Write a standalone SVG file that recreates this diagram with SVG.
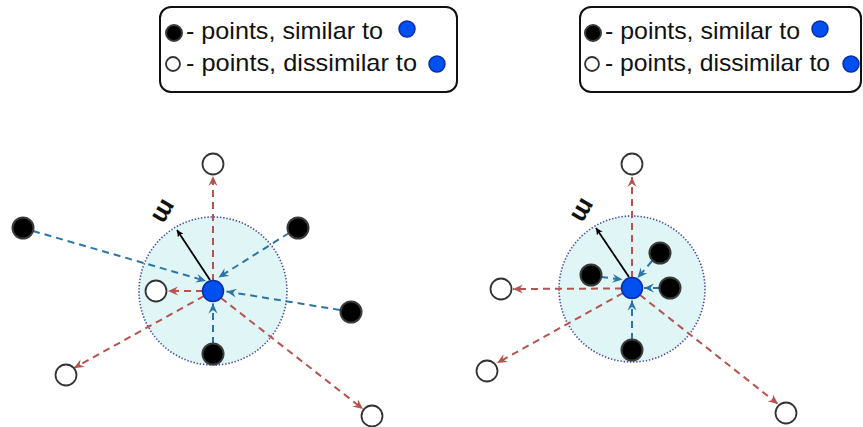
<svg xmlns="http://www.w3.org/2000/svg" width="863" height="427" viewBox="0 0 863 427">
<style>
  .legend { fill: #fff; stroke: #111; stroke-width: 2; }
  .ltext { font-family: "Liberation Sans", Arial, sans-serif; font-size: 24px; fill: #111; }
  .mlabel { font-family: "Liberation Sans", Arial, sans-serif; font-size: 26px; font-weight: bold; fill: #111; }
  .zone { fill: #dff5f6; stroke: #4b4ba3; stroke-width: 1.6; stroke-dasharray: 1.4 1.8; }
  .anchor { fill: #0050ef; stroke: #0a2ea8; stroke-width: 1.5; }
  .sim { fill: #000; stroke: #3a3a3a; stroke-width: 2; }
  .dis { fill: #fff; stroke: #333; stroke-width: 1.8; }
  .pull { stroke: #2a75a8; stroke-width: 2; stroke-dasharray: 7 5; fill: none; marker-end: url(#ab); }
  .push { stroke: #b5544f; stroke-width: 2; stroke-dasharray: 7 5; fill: none; marker-end: url(#ar); }
  .m { stroke: #000; stroke-width: 1.8; fill: none; marker-end: url(#ak); }
</style>
<defs>
  <marker id="ab" viewBox="0 0 10 10" refX="10" refY="5" markerWidth="10" markerHeight="10" markerUnits="userSpaceOnUse" orient="auto">
    <path d="M0,0.5 L10,5 L0,9.5 L3.5,5 z" fill="#2a75a8"/>
  </marker>
  <marker id="ar" viewBox="0 0 10 10" refX="10" refY="5" markerWidth="10" markerHeight="10" markerUnits="userSpaceOnUse" orient="auto">
    <path d="M0,0.5 L10,5 L0,9.5 L3.5,5 z" fill="#b5544f"/>
  </marker>
  <marker id="ak" viewBox="0 0 10 10" refX="10" refY="5" markerWidth="7" markerHeight="7" markerUnits="userSpaceOnUse" orient="auto">
    <path d="M0,0 L10,5 L0,10 L3,5 z" fill="#000"/>
  </marker>
</defs>
<rect width="863" height="427" fill="#fff"/>

<g id="legend-left">
  <rect class="legend" x="160" y="7" width="297" height="85" rx="11"/>
  <circle class="sim" cx="174" cy="33" r="8"/>
  <text class="ltext" x="186" y="39" textLength="197" lengthAdjust="spacingAndGlyphs">- points, similar to</text>
  <circle class="anchor" cx="407" cy="29" r="8"/>
  <circle class="dis" cx="173" cy="64" r="7"/>
  <text class="ltext" x="186" y="71" textLength="231" lengthAdjust="spacingAndGlyphs">- points, dissimilar to</text>
  <circle class="anchor" cx="437" cy="64" r="8"/>
</g>

<g id="legend-right">
  <rect class="legend" x="580" y="7" width="281" height="85" rx="11"/>
  <circle class="sim" cx="593" cy="33" r="8"/>
  <text class="ltext" x="605" y="39" textLength="195" lengthAdjust="spacingAndGlyphs">- points, similar to</text>
  <circle class="anchor" cx="820" cy="29" r="8"/>
  <circle class="dis" cx="592" cy="64" r="7"/>
  <text class="ltext" x="605" y="71" textLength="225" lengthAdjust="spacingAndGlyphs">- points, dissimilar to</text>
  <circle class="anchor" cx="851" cy="64" r="8"/>
</g>

<g id="zone-left"><circle class="zone" cx="213" cy="291" r="74"/></g>
<g id="zone-right"><circle class="zone" cx="632" cy="289" r="73"/></g>

<g id="connectors">
  <!-- left panel -->
  <line class="pull" x1="33" y1="231" x2="206" y2="281"/>
  <line class="pull" x1="289" y1="233" x2="218.5" y2="277.5"/>
  <line class="pull" x1="340" y1="310" x2="226.5" y2="291.5"/>
  <line class="pull" x1="213" y1="344" x2="213" y2="303.5"/>
  <line class="push" x1="213" y1="281" x2="213" y2="176"/>
  <line class="push" x1="203" y1="291" x2="168" y2="291"/>
  <line class="push" x1="204" y1="296" x2="74" y2="368"/>
  <line class="push" x1="221" y1="298" x2="363" y2="409"/>
  <line class="m" x1="210" y1="280" x2="177" y2="230"/>
  <!-- right panel -->
  <line class="pull" x1="601" y1="277" x2="622.5" y2="279.5"/>
  <line class="pull" x1="652" y1="261" x2="637.5" y2="278"/>
  <line class="pull" x1="660" y1="288" x2="644" y2="288"/>
  <line class="pull" x1="632" y1="340" x2="632" y2="300.5"/>
  <line class="push" x1="632" y1="278" x2="632" y2="177"/>
  <line class="push" x1="622" y1="288.5" x2="513" y2="289"/>
  <line class="push" x1="623" y1="293" x2="497" y2="363"/>
  <line class="push" x1="640" y1="295" x2="778" y2="404"/>
  <line class="m" x1="629" y1="277" x2="596" y2="228"/>
</g>

<g id="m-left"><text class="mlabel" transform="translate(165,212) rotate(120)" text-anchor="middle" dominant-baseline="central">m</text></g>
<g id="m-right"><text class="mlabel" transform="translate(584,211) rotate(120)" text-anchor="middle" dominant-baseline="central">m</text></g>

<g id="left-anchor"><circle class="anchor" cx="213" cy="291" r="10.5"/></g>
<g id="left-sim-1"><circle class="sim" cx="23" cy="228" r="10.5"/></g>
<g id="left-sim-2"><circle class="sim" cx="298" cy="228" r="10.5"/></g>
<g id="left-sim-3"><circle class="sim" cx="351" cy="312" r="10.5"/></g>
<g id="left-sim-4"><circle class="sim" cx="213" cy="354" r="10.5"/></g>
<g id="left-dis-1"><circle class="dis" cx="213" cy="164" r="10.5"/></g>
<g id="left-dis-2"><circle class="dis" cx="156" cy="291" r="10.5"/></g>
<g id="left-dis-3"><circle class="dis" cx="66" cy="375" r="10.5"/></g>
<g id="left-dis-4"><circle class="dis" cx="372" cy="416" r="10.5"/></g>

<g id="right-anchor"><circle class="anchor" cx="632" cy="288" r="10.5"/></g>
<g id="right-sim-1"><circle class="sim" cx="591" cy="275" r="10.5"/></g>
<g id="right-sim-2"><circle class="sim" cx="660" cy="253" r="10.5"/></g>
<g id="right-sim-3"><circle class="sim" cx="670" cy="288" r="10.5"/></g>
<g id="right-sim-4"><circle class="sim" cx="632" cy="350" r="10.5"/></g>
<g id="right-dis-1"><circle class="dis" cx="632" cy="164" r="10.5"/></g>
<g id="right-dis-2"><circle class="dis" cx="501" cy="289" r="10.5"/></g>
<g id="right-dis-3"><circle class="dis" cx="487" cy="371" r="10.5"/></g>
<g id="right-dis-4"><circle class="dis" cx="786" cy="413" r="10.5"/></g>
</svg>
